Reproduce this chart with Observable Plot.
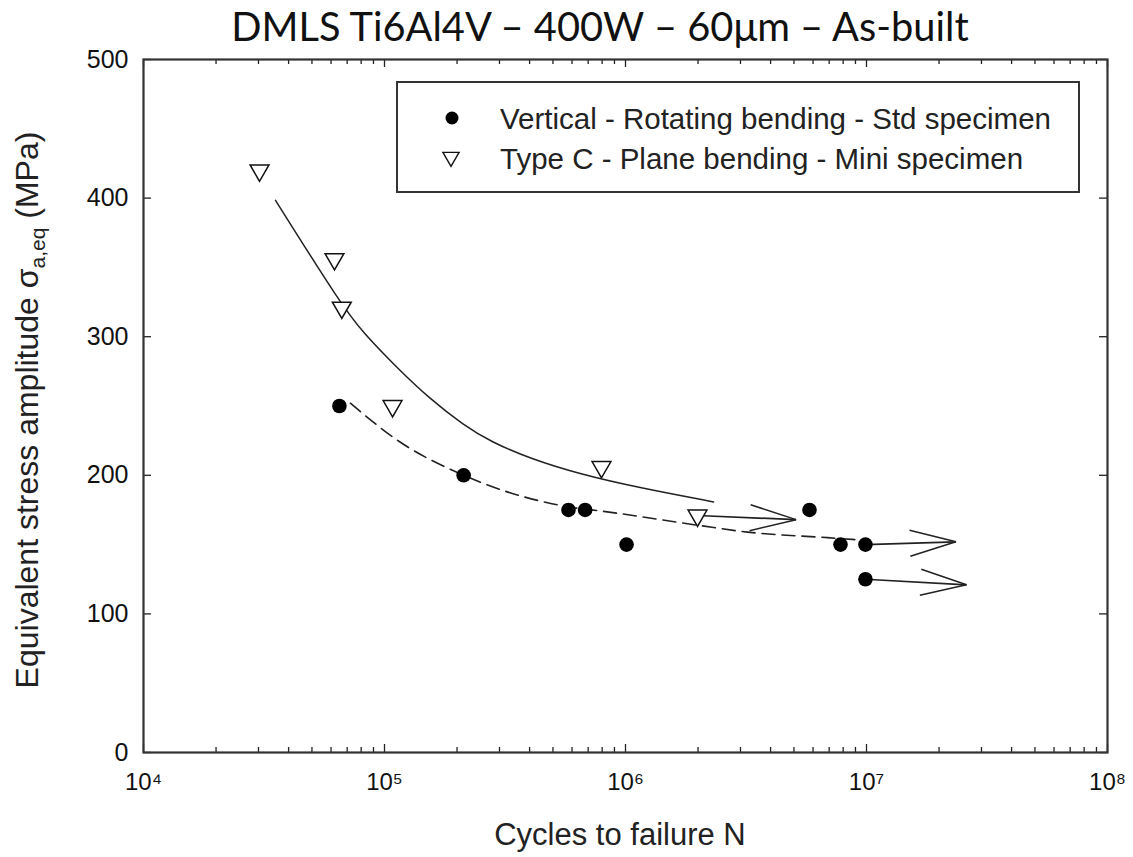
<!DOCTYPE html>
<html>
<head>
<meta charset="utf-8">
<script src="https://cdn.jsdelivr.net/npm/d3@7"></script>
<script src="https://cdn.jsdelivr.net/npm/@observablehq/plot@0.6"></script>
<style>
  html, body { margin: 0; padding: 0; background: white; }
  #chart { width: 1133px; height: 857px; }
</style>
</head>
<body>
<div id="chart"></div>
<script>
// ---- Data ----
const titleText = "DMLS Ti6Al4V – 400W – 60μm – As-built";
const seriesNames = ["Vertical - Rotating bending - Std specimen", "Type C - Plane bending - Mini specimen"];

// Vertical - Rotating bending - Std specimen (filled circles)
const verticalN = [65000, 213000, 580000, 680000, 1010000, 5800000, 7800000, 9900000, 9900000];
const verticalS = [250, 200, 175, 175, 150, 175, 150, 150, 125];

// Type C - Plane bending - Mini specimen (open down triangles)
const typeCN = [30300, 62000, 66500, 108000, 795000, 1990000];
const typeCS = [420, 356, 321, 250, 206, 171];

// Run-outs (arrows): start N, start S, end N, end S
const runoutN1 = [1990000, 9900000, 9900000];
const runoutS1 = [171, 150, 125];
const runoutN2 = [5100000, 23500000, 26000000];
const runoutS2 = [168, 152, 121];

// Fitted curves
const solidN = [35300, 66300, 81800, 113000, 155000, 213000, 275400, 403500, 650000, 1153000, 2320000];
const solidS = [398.4, 322.8, 302.6, 277.4, 254.8, 236.2, 224.3, 211.9, 200.7, 190.8, 180.8];
const dashedN = [72200, 116000, 213000, 592000, 811000, 1990000, 3210000, 6890000, 10000000];
const dashedS = [252, 224, 200, 177, 174, 164, 159, 155, 153];

// Axis ticks
const decades = [1e4, 1e5, 1e6, 1e7, 1e8];
const decadeExp = ["⁴", "⁵", "⁶", "⁷", "⁸"];
const minorMult = [2, 3, 4, 5, 6, 7, 8, 9];
const yTicks = [0, 100, 200, 300, 400, 500];

const xLabel = "Cycles to failure N";

// ---- Build tables ----
const vertical = verticalN.map((n, i) => ({n, s: verticalS[i]}));
const typeC = typeCN.map((n, i) => ({n, s: typeCS[i]}));
const runouts = runoutN1.map((n, i) => ({n1: n, s1: runoutS1[i], n2: runoutN2[i], s2: runoutS2[i]}));
const solid = solidN.map((n, i) => ({n, s: solidS[i]}));
const dashed = dashedN.map((n, i) => ({n, s: dashedS[i]}));
const minorTicks = decades.slice(0, -1).flatMap(d => minorMult.map(m => m * d));

const W = 1133, H = 857;
const mL = 143, mR = 26, mT = 59, mB = 105;
const fw = W - mL - mR, fh = H - mT - mB;

function openArrow(color) {
  const m = d3.create("svg:marker")
    .attr("viewBox", "-50 -16 54 32")
    .attr("markerUnits", "userSpaceOnUse")
    .attr("markerWidth", 54).attr("markerHeight", 32)
    .attr("refX", 0).attr("refY", 0)
    .attr("orient", "auto")
    .attr("fill", "none").attr("stroke", color).attr("stroke-width", 1.5);
  m.append("path").attr("d", "M-46,-13L0,0L-46,13");
  return m.node();
}

const chart = Plot.plot({
  width: W, height: H,
  marginLeft: mL, marginRight: mR, marginTop: mT, marginBottom: mB,
  x: {type: "log", domain: [1e4, 1e8]},
  y: {domain: [0, 500]},
  style: {fontFamily: "'Liberation Sans', Arial, sans-serif", background: "white", color: "#111", overflow: "visible"},
  marks: [
    Plot.tickX(minorTicks, {x: d => d, insetTop: fh - 5, stroke: "#222", strokeWidth: 1.3}),
    Plot.tickX(minorTicks, {x: d => d, insetBottom: fh - 5, stroke: "#222", strokeWidth: 1.3}),
    Plot.tickX(decades, {x: d => d, insetTop: fh - 8, stroke: "#222", strokeWidth: 1.3}),
    Plot.tickX(decades, {x: d => d, insetBottom: fh - 8, stroke: "#222", strokeWidth: 1.3}),
    Plot.tickY(yTicks, {y: d => d, insetRight: fw - 8, stroke: "#222", strokeWidth: 1.3}),
    Plot.tickY(yTicks, {y: d => d, insetLeft: fw - 8, stroke: "#222", strokeWidth: 1.3}),
    Plot.axisX(decades, {tickSize: 0, tickPadding: 20, fontSize: 24, label: null,
      tickFormat: (d) => "10" + decadeExp[decades.indexOf(d)]}),
    Plot.axisY(yTicks, {tickSize: 0, tickPadding: 15, fontSize: 25, label: null, tickFormat: d => String(d)}),
    Plot.line(solid, {x: "n", y: "s", curve: "basis", stroke: "#222", strokeWidth: 1.5}),
    Plot.line(dashed, {x: "n", y: "s", curve: "monotone-x", stroke: "#222", strokeWidth: 1.6, strokeDasharray: "13,7"}),
    Plot.link(runouts, {x1: "n1", y1: "s1", x2: "n2", y2: "s2", stroke: "#222", strokeWidth: 1.7, markerEnd: openArrow}),
    Plot.dot(vertical, {x: "n", y: "s", r: 7.3, fill: "black", stroke: "none"}),
    Plot.dot(typeC, {x: "n", y: "s", symbol: "triangle", rotate: 180, r: 7, fill: "white", stroke: "#111", strokeWidth: 1.5}),
    Plot.frame({stroke: "#333", strokeWidth: 2.2})
  ]
});

document.getElementById("chart").appendChild(chart);
const svg = d3.select(chart);

// Title
svg.append("text")
  .attr("x", 600).attr("y", 41)
  .attr("text-anchor", "middle")
  .attr("font-family", "Lato, 'Open Sans', sans-serif")
  .attr("font-size", 39.8)
  .attr("fill", "#111")
  .text(titleText);

// X label
svg.append("text")
  .attr("x", 620).attr("y", 845)
  .attr("text-anchor", "middle")
  .attr("font-size", 31)
  .attr("fill", "#222")
  .text(xLabel);

// Y label with subscript
const yl = svg.append("text")
  .attr("transform", "translate(38,410) rotate(-90)")
  .attr("text-anchor", "middle")
  .attr("font-size", 32)
  .attr("fill", "#222");
yl.append("tspan").text("Equivalent stress amplitude σ");
yl.append("tspan").attr("font-size", 21).attr("dy", 7).text("a,eq");
yl.append("tspan").attr("dy", -7).text(" (MPa)");

// Legend
const lg = svg.append("g");
lg.append("rect").attr("x", 397).attr("y", 82).attr("width", 682).attr("height", 110)
  .attr("fill", "white").attr("stroke", "#333").attr("stroke-width", 2);
lg.append("circle").attr("cx", 452).attr("cy", 118).attr("r", 6.5).attr("fill", "black");
lg.append("path").attr("transform", "translate(451,157) rotate(180)")
  .attr("d", d3.symbol(d3.symbolTriangle, Math.PI * 6 * 6)())
  .attr("fill", "white").attr("stroke", "#111").attr("stroke-width", 1.4);
seriesNames.forEach((t, i) => {
  lg.append("text").attr("x", 500).attr("y", 118 + i * 40)
    .attr("dy", "0.36em").attr("text-anchor", "start")
    .attr("font-size", 29.5).attr("fill", "#222").text(t);
});
</script>
</body>
</html>
